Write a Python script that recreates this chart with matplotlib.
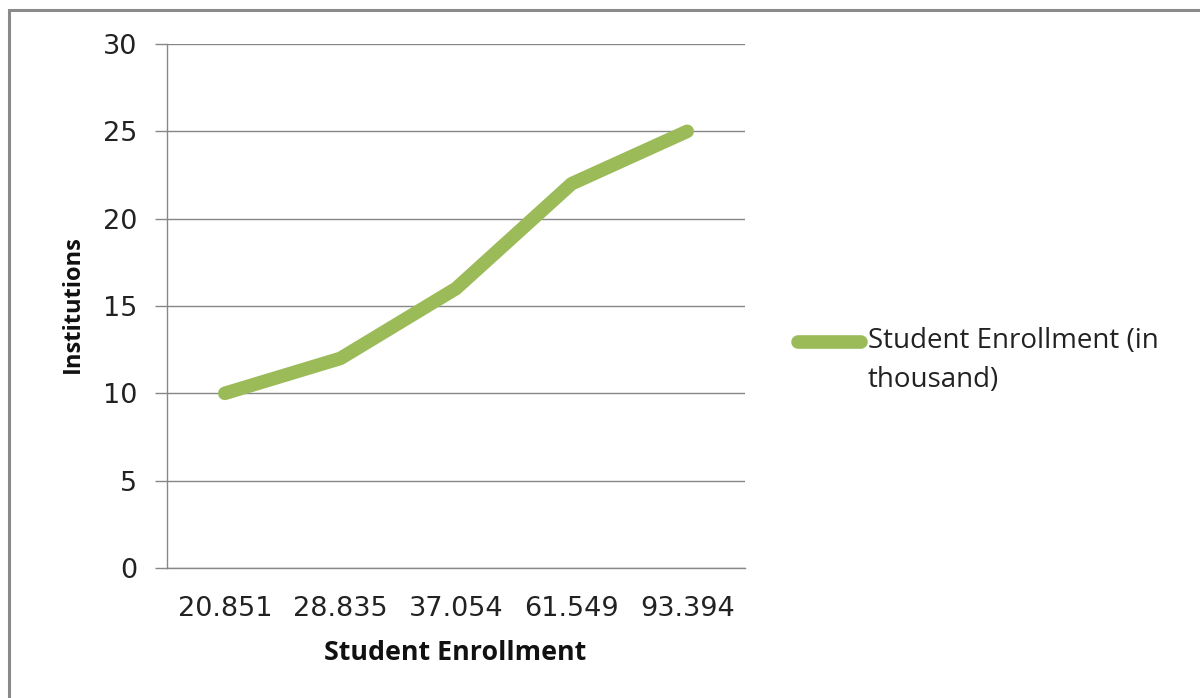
import matplotlib
matplotlib.use("Agg")
import matplotlib.pyplot as plt
from matplotlib.patches import Rectangle

categories = ["20.851", "28.835", "37.054", "61.549", "93.394"]
values = [10, 12, 16, 22, 25]
series_name = "Student Enrollment (in\nthousand)"
y_ticks = [0, 5, 10, 15, 20, 25, 30]

W, H = 1200, 698
fig = plt.figure(figsize=(W / 100, H / 100), dpi=100)
fig.patch.set_facecolor("white")

# figure border
fig.patches.append(Rectangle((9 / W, 1 - 700 / H), 1300 / W, (700 - 10) / H,
                             transform=fig.transFigure, fill=False,
                             edgecolor="#8a8a8a", linewidth=2.2))

left, right, top, bottom = 167, 745, 44, 568
ax = fig.add_axes([left / W, 1 - bottom / H, (right - left) / W, (bottom - top) / H])

x = list(range(len(categories)))
ax.plot(x, values, color="#9BBB59", linewidth=9.8, solid_capstyle="round",
        solid_joinstyle="round", label=series_name, zorder=3)

ax.set_xlim(-0.5, len(categories) - 0.5)
ax.set_ylim(0, 30)
ax.set_yticks(y_ticks)
ax.set_xticks(x)
ax.set_xticklabels(categories)

grid_c = "#878787"
ax.yaxis.grid(True, color=grid_c, linewidth=1.0)
ax.set_axisbelow(True)
for s in ["top", "right"]:
    ax.spines[s].set_visible(False)
ax.spines["left"].set_color(grid_c)
ax.spines["bottom"].set_color(grid_c)
ax.spines["left"].set_linewidth(1.0)
ax.spines["bottom"].set_linewidth(1.0)

ax.tick_params(axis="y", length=8.6, width=1.0, color=grid_c, pad=13,
               labelsize=19.5, labelcolor="#222222")
ax.tick_params(axis="x", length=0, pad=20, labelsize=19.5, labelcolor="#222222")
for lbl in ax.get_yticklabels() + ax.get_xticklabels():
    lbl.set_family("DejaVu Sans")

fig.text(455 / W, 1 - 653 / H, "Student Enrollment", ha="center", va="center",
         fontsize=19.3, fontweight="bold", family="Open Sans", color="#111111")
fig.text(73 / W, 1 - 304 / H, "Institutions", ha="center", va="center",
         rotation=90, fontsize=17, fontweight="bold", family="Open Sans", color="#111111")

leg = fig.legend(loc="center left", bbox_to_anchor=(798 / W, 1 - 341 / H),
                 frameon=False, handlelength=2.27, handletextpad=0.25,
                 borderpad=0, borderaxespad=0,
                 prop={"family": "Open Sans", "size": 20})
for t in leg.get_texts():
    t.set_color("#222222")
    t.set_linespacing(1.55)
    t.set_position((0, -19.5))

fig.savefig("out.png", dpi=100, facecolor="white")
